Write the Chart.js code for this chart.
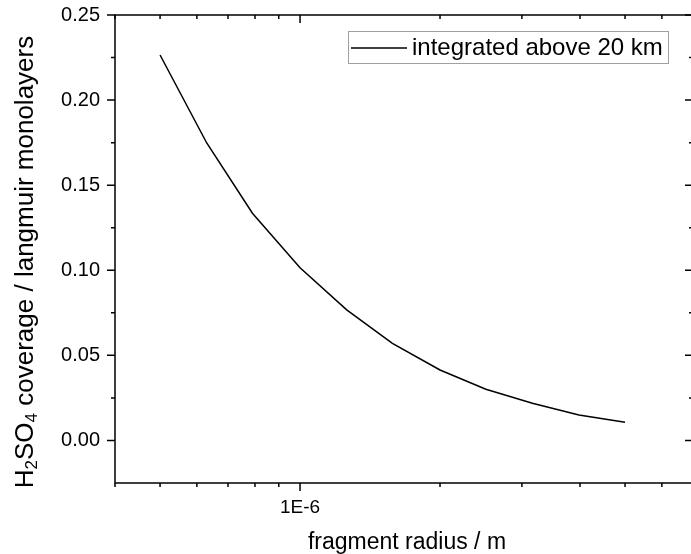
<!DOCTYPE html>
<html><head><meta charset="utf-8">
<script src="https://cdn.jsdelivr.net/npm/chart.js@4"></script>
<style>
html,body{margin:0;padding:0;background:#fff;overflow:hidden}
#wrap{width:691px;height:554px;overflow:hidden;position:relative;background:#fff}
#c{position:absolute;left:0;top:0}
</style></head>
<body><div id="wrap"><canvas id="c" width="700" height="554"></canvas></div>
<script>
// ---- data ----
const radius = [5.0e-7, 6.3e-7, 7.9e-7, 1.0e-6, 1.26e-6, 1.58e-6, 2.0e-6, 2.51e-6, 3.16e-6, 3.98e-6, 5.0e-6];
const coverage = [0.2265, 0.1748, 0.1335, 0.1015, 0.0767, 0.0571, 0.0414, 0.0301, 0.0219, 0.0150, 0.0107];
const seriesLabel = 'integrated above 20 km';
const xMajorTicks = [1e-6];
const xMinorTicks = [4e-7, 5e-7, 6e-7, 7e-7, 8e-7, 9e-7, 2e-6, 3e-6, 4e-6, 5e-6, 6e-6, 7e-6];
const xTickLabels = {'1e-6': '1E-6'};
const yMajorTicks = [0, 0.05, 0.10, 0.15, 0.20, 0.25];
const yMinorTicks = [0.025, 0.075, 0.125, 0.175, 0.225];
const xTitle = 'fragment radius / m';
const yTitleParts = [['H', 0], ['2', 1], ['SO', 0], ['4', 1], [' coverage / langmuir monolayers', 0]];

const FONT = "'Liberation Sans', Arial, sans-serif";

const framePlugin = {
  id: 'frame',
  afterDraw(chart) {
    const {ctx, chartArea: {left, right, top, bottom}, scales: {x, y}} = chart;
    ctx.save();
    ctx.strokeStyle = '#000';
    ctx.lineWidth = 1.5;
    ctx.strokeRect(left, top, right - left, bottom - top);
    ctx.beginPath();
    const seg = (x1, y1, x2, y2) => { ctx.moveTo(x1, y1); ctx.lineTo(x2, y2); };
    xMajorTicks.forEach(v => { const p = x.getPixelForValue(v); seg(p, bottom, p, bottom + 8); seg(p, top, p, top + 8); });
    xMinorTicks.forEach(v => { const p = x.getPixelForValue(v); seg(p, bottom, p, bottom + 4); seg(p, top, p, top + 4); });
    yMajorTicks.forEach(v => { const p = y.getPixelForValue(v); seg(left - 8, p, left, p); seg(right, p, right - 8, p); });
    yMinorTicks.forEach(v => { const p = y.getPixelForValue(v); seg(left - 4, p, left, p); seg(right, p, right - 4, p); });
    ctx.stroke();

    // legend
    const ds = chart.data.datasets[0];
    ctx.lineWidth = 1;
    ctx.strokeStyle = '#a0a0a0';
    ctx.strokeRect(348.5, 31.5, 320, 32);
    ctx.strokeStyle = ds.borderColor;
    ctx.lineWidth = ds.borderWidth;
    ctx.beginPath(); ctx.moveTo(351, 48); ctx.lineTo(407, 48); ctx.stroke();
    ctx.fillStyle = '#000';
    ctx.font = '24px ' + FONT;
    ctx.textBaseline = 'middle';
    ctx.textAlign = 'left';
    ctx.fillText(ds.label, 412, 48);

    // x title
    ctx.font = '23px ' + FONT;
    ctx.textAlign = 'center';
    ctx.textBaseline = 'alphabetic';
    ctx.fillText(xTitle, 407, 549);

    // y title with subscripts
    const big = '26px ' + FONT, small = '17px ' + FONT;
    let total = 0;
    yTitleParts.forEach(([t, s]) => { ctx.font = s ? small : big; total += ctx.measureText(t).width; });
    ctx.translate(33, 262);
    ctx.rotate(-Math.PI / 2);
    ctx.textAlign = 'left';
    let cx = -total / 2;
    yTitleParts.forEach(([t, s]) => {
      ctx.font = s ? small : big;
      ctx.fillText(t, cx, s ? 4 : 0);
      cx += ctx.measureText(t).width;
    });
    ctx.restore();
  }
};

const noPad = s => { s.paddingLeft = 0; s.paddingRight = 0; s.paddingTop = 0; s.paddingBottom = 0; };

new Chart(document.getElementById('c'), {
  type: 'line',
  data: {
    datasets: [{
      label: seriesLabel,
      data: radius.map((r, i) => ({x: r, y: coverage[i]})),
      borderColor: '#000',
      borderWidth: 1.5,
      pointRadius: 0,
      tension: 0,
      fill: false
    }]
  },
  options: {
    responsive: false,
    animation: false,
    devicePixelRatio: 1,
    layout: {padding: {left: 0, top: 15, right: 7, bottom: 0}},
    plugins: {legend: {display: false}, tooltip: {enabled: false}},
    scales: {
      x: {
        type: 'logarithmic',
        min: 4e-7, max: 7e-6,
        grid: {display: false, drawTicks: false},
        border: {display: false},
        afterBuildTicks: s => { s.ticks = xMajorTicks.concat(xMinorTicks).sort((a, b) => a - b).map(v => ({value: v})); },
        afterFit: s => { s.height = 71; noPad(s); },
        ticks: {
          autoSkip: false, maxRotation: 0, minRotation: 0, padding: 13,
          color: '#000', font: {size: 19, family: FONT},
          callback: v => xTickLabels[Number(v).toExponential(0)] || ''
        }
      },
      y: {
        type: 'linear',
        min: -0.025, max: 0.25,
        grid: {display: false, drawTicks: false},
        border: {display: false},
        afterBuildTicks: s => { s.ticks = yMajorTicks.map(v => ({value: v})); },
        afterFit: s => { s.width = 115; noPad(s); },
        ticks: {
          padding: 15, color: '#000', font: {size: 20, family: FONT},
          callback: v => Number(v).toFixed(2)
        }
      }
    }
  },
  plugins: [framePlugin]
});
</script>
</body></html>
